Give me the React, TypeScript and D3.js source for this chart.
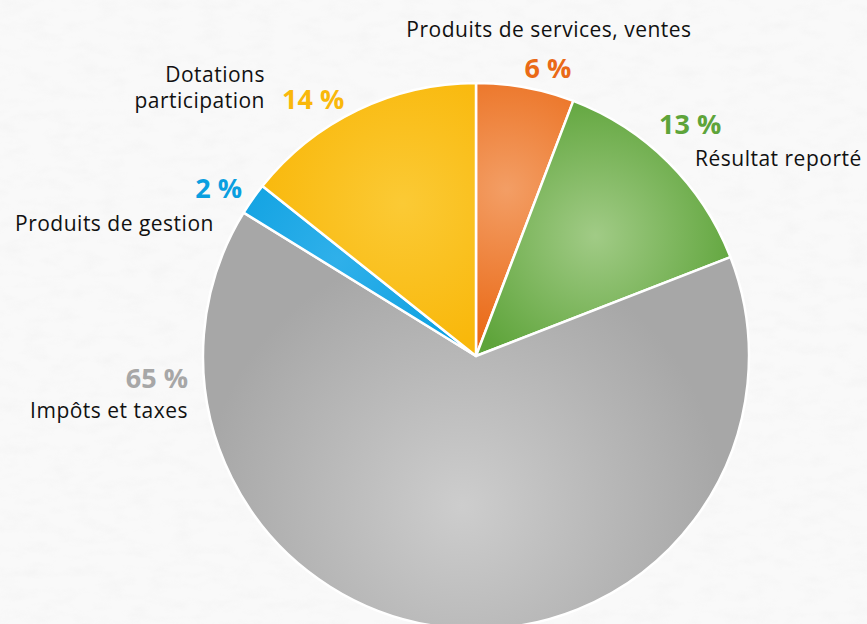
import React, { useEffect, useRef } from 'react';
import * as d3 from 'd3';

// slices, clockwise from 12 o'clock
const categories = ['Produits de services, ventes', 'Résultat reporté', 'Impôts et taxes', 'Produits de gestion', 'Dotations participation'];
const shares = [5.8, 13.3, 64.7, 1.9, 14.3];
const pctLabels = ['6 %', '13 %', '65 %', '2 %', '14 %'];
const darkColors = ['#ea6a17', '#5ea43a', '#a7a7a7', '#0a9fe0', '#f9b80b'];
const lightColors = ['#f39e65', '#a1cb86', '#cdcdcd', '#2fb0ea', '#fbca35'];

const W = 867;
const H = 624;

const App: React.FC = () => {
  const svgRef = useRef<SVGSVGElement>(null);

  useEffect(() => {
    if (!svgRef.current) return;
    const svg = d3.select(svgRef.current);
    svg.selectAll('*').remove();

    const cx = 476;
    const cy = 356;
    const r = 273;

    const defs = svg.append('defs');

    // paper texture
    const f = defs.append('filter').attr('id', 'paper').attr('x', 0).attr('y', 0).attr('width', '100%').attr('height', '100%');
    f.append('feTurbulence').attr('type', 'fractalNoise').attr('baseFrequency', '0.04 0.09').attr('numOctaves', 3).attr('seed', 4);
    f.append('feColorMatrix').attr('type', 'matrix')
      .attr('values', '0 0 0 0 0.55  0 0 0 0 0.55  0 0 0 0 0.55  0 0 0 -2.2 1.25');

    svg.append('rect').attr('width', W).attr('height', H).attr('fill', '#f9f9f9');
    svg.append('rect').attr('width', W).attr('height', H).attr('filter', 'url(#paper)').attr('opacity', 0.06);

    const pie = d3.pie<number>().sort(null).value(d => d);
    const arcs = pie(shares);
    const arc = d3.arc<d3.PieArcDatum<number>>().innerRadius(0).outerRadius(r);

    // gradient per slice, lightest around the middle of the slice
    arcs.forEach((a, i) => {
      const mid = (a.startAngle + a.endAngle) / 2;
      const span = a.endAngle - a.startAngle;
      const k = span > 3 ? 0.55 : 0.62;
      const g = defs.append('radialGradient')
        .attr('id', `grad${i}`)
        .attr('gradientUnits', 'userSpaceOnUse')
        .attr('cx', Math.sin(mid) * r * k)
        .attr('cy', -Math.cos(mid) * r * k)
        .attr('r', span > 3 ? r * 0.95 : r * 0.55);
      g.append('stop').attr('offset', '0%').attr('stop-color', lightColors[i]);
      g.append('stop').attr('offset', '100%').attr('stop-color', darkColors[i]);
    });

    const g = svg.append('g').attr('transform', `translate(${cx},${cy})`);
    g.selectAll('path')
      .data(arcs)
      .enter()
      .append('path')
      .attr('d', arc)
      .attr('fill', (_, i) => `url(#grad${i})`)
      .attr('stroke', '#fff')
      .attr('stroke-width', 2.5)
      .attr('stroke-linejoin', 'round');

    const font = "'Open Sans', 'DejaVu Sans', sans-serif";
    const names = svg.append('g').style('font-family', font).style('font-size', '21px')
      .style('letter-spacing', '0.5px').attr('fill', '#111');
    const pcts = svg.append('g').style('font-family', font).style('font-size', '27px').style('font-weight', 700);

    // name labels: [text lines, x, first baseline, anchor]
    const nameSpecs: [string[], number, number, string][] = [
      [[categories[0]], 549, 37, 'middle'],
      [[categories[1]], 695, 166, 'start'],
      [[categories[2]], 188, 418, 'end'],
      [[categories[3]], 15, 231, 'start'],
      [['Dotations', 'participation'], 265, 82, 'end'],
    ];
    nameSpecs.forEach(([lines, x, y, anchor]) => {
      const t = names.append('text').attr('x', x).attr('y', y).attr('text-anchor', anchor);
      lines.forEach((ln, j) => t.append('tspan').attr('x', x).attr('dy', j === 0 ? 0 : 26).text(ln));
    });

    const pctSpecs: [number, number, string][] = [
      [548, 78, 'middle'],
      [659, 134, 'start'],
      [188, 388, 'end'],
      [242, 198, 'end'],
      [282, 109, 'start'],
    ];
    pctSpecs.forEach(([x, y, anchor], i) => {
      pcts.append('text').attr('x', x).attr('y', y).attr('text-anchor', anchor)
        .attr('fill', darkColors[i]).text(pctLabels[i]);
    });
  }, []);

  return (
    <svg
      ref={svgRef}
      width={W}
      height={H}
      style={{ position: 'absolute', left: 0, top: 0, display: 'block' }}
    />
  );
};

export default App;
